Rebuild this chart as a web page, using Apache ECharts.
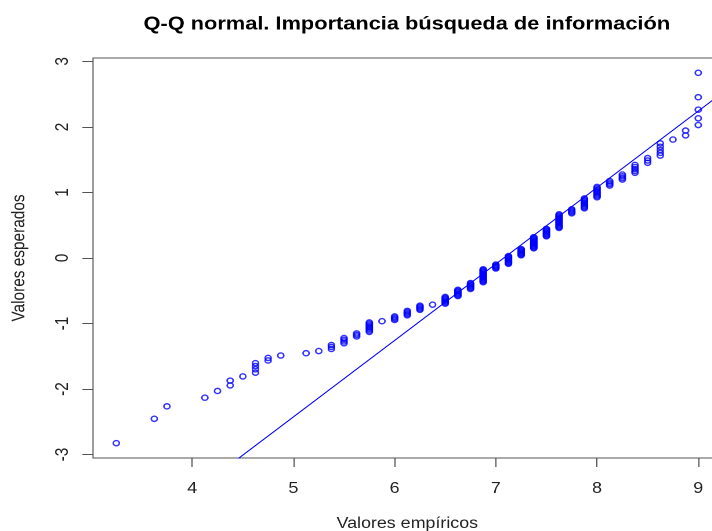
<!DOCTYPE html>
<html>
<head>
<meta charset="utf-8">
<script src="https://cdn.jsdelivr.net/npm/echarts@6/dist/echarts.min.js"></script>
<style>
html,body{margin:0;padding:0;background:#fff;overflow:hidden;width:712px;height:531px;}
#main{width:622px;height:531px;transform:scaleX(1.16);transform-origin:0 0;}
</style>
</head>
<body>
<div id="main"></div>
<script>
// Distinct empirical values (x) and how many observations sit at each one
const empiricalValues = [3.25, 3.625, 3.75, 4.125, 4.25, 4.375, 4.5, 4.625, 4.75, 4.875,
  5.125, 5.25, 5.375, 5.5, 5.625, 5.75, 5.875, 6.0, 6.125, 6.25, 6.375, 6.5, 6.625, 6.75,
  6.875, 7.0, 7.125, 7.25, 7.375, 7.5, 7.625, 7.75, 7.875, 8.0, 8.125, 8.25, 8.375, 8.5,
  8.625, 8.75, 8.875, 9.0];
const valueCounts = [1, 1, 1, 1, 1, 2, 1, 4, 2, 1,
  1, 1, 3, 4, 3, 8, 1, 4, 5, 5, 1, 8, 8, 8,
  17, 6, 11, 9, 15, 10, 16, 5, 10, 9, 4, 4, 5, 3,
  5, 1, 2, 5];
const xTicks = [4, 5, 6, 7, 8, 9];
const yTicks = [-3, -2, -1, 0, 1, 2, 3];
const titleText = 'Q-Q normal. Importancia búsqueda de información';
const xName = 'Valores empíricos';
const yName = 'Valores esperados';

// Standard normal quantile (Acklam)
function qnorm(p) {
  const a = [-3.969683028665376e+01, 2.209460984245205e+02, -2.759285104469687e+02, 1.383577518672690e+02, -3.066479806614716e+01, 2.506628277459239e+00];
  const b = [-5.447609879822406e+01, 1.615858368580409e+02, -1.556989798598866e+02, 6.680131188771972e+01, -1.328068155288572e+01];
  const c = [-7.784894002430293e-03, -3.223964580411365e-01, -2.400758277161838e+00, -2.549732539343734e+00, 4.374664141464968e+00, 2.938163982698783e+00];
  const d = [7.784695709041462e-03, 3.224671290700398e-01, 2.445134137142996e+00, 3.754408661907416e+00];
  const plow = 0.02425, phigh = 1 - plow;
  let q, r;
  if (p < plow) {
    q = Math.sqrt(-2 * Math.log(p));
    return (((((c[0]*q+c[1])*q+c[2])*q+c[3])*q+c[4])*q+c[5]) / ((((d[0]*q+d[1])*q+d[2])*q+d[3])*q+1);
  } else if (p <= phigh) {
    q = p - 0.5; r = q*q;
    return (((((a[0]*r+a[1])*r+a[2])*r+a[3])*r+a[4])*r+a[5])*q / (((((b[0]*r+b[1])*r+b[2])*r+b[3])*r+b[4])*r+1);
  } else {
    q = Math.sqrt(-2 * Math.log(1 - p));
    return -(((((c[0]*q+c[1])*q+c[2])*q+c[3])*q+c[4])*q+c[5]) / ((((d[0]*q+d[1])*q+d[2])*q+d[3])*q+1);
  }
}
function quantile7(sorted, p) {
  const h = (sorted.length - 1) * p;
  const lo = Math.floor(h);
  const hi = Math.min(lo + 1, sorted.length - 1);
  return sorted[lo] + (h - lo) * (sorted[hi] - sorted[lo]);
}

// Build the sorted sample and its normal scores (as qqnorm does)
const sample = [];
empiricalValues.forEach((v, i) => { for (let k = 0; k < valueCounts[i]; k++) sample.push(v); });
const n = sample.length;
const qqPoints = sample.map((v, i) => [v, qnorm((i + 0.5) / n)]);

// Axis limits as R sets them (range +/- 4%)
const xMin = 3.02, xMax = 9.23;
const yMin = -3.052, yMax = 3.052;

// qqline through the quartiles
const q1 = quantile7(sample, 0.25), q3 = quantile7(sample, 0.75);
const z1 = qnorm(0.25), z3 = qnorm(0.75);
const slope = (z3 - z1) / (q3 - q1);
const intercept = z1 - slope * q1;
const qqLine = [[xMin, intercept + slope * xMin], [xMax, intercept + slope * xMax]];

const font = 'Liberation Sans, Arial, Helvetica, sans-serif';
const axisColor = '#555';
const textColor = '#222';

const chart = echarts.init(document.getElementById('main'), null, {renderer: 'canvas', devicePixelRatio: 2});
chart.setOption({
  animation: false,
  backgroundColor: '#fff',
  title: {
    text: titleText,
    left: 345.7,
    textAlign: 'center',
    top: 10,
    textStyle: {fontFamily: font, fontSize: 18.8, fontWeight: 'bold', color: '#000'}
  },
  grid: {
    left: 80.2, top: 58, right: 0, height: 400,
    outerBoundsMode: 'none',
    containLabel: false,
    show: true, borderColor: axisColor, borderWidth: 1, backgroundColor: 'transparent'
  },
  xAxis: {
    type: 'value', min: xMin, max: xMax,
    axisLine: {show: false, onZero: false},
    splitLine: {show: false},
    axisTick: {show: true, length: 9, lineStyle: {color: axisColor, width: 1}, customValues: xTicks},
    axisLabel: {customValues: xTicks, margin: 23, fontSize: 15.4, fontFamily: font, color: textColor},
    name: xName, nameLocation: 'middle', nameGap: 58,
    nameTextStyle: {fontSize: 15.4, fontFamily: font, color: textColor}
  },
  yAxis: {
    type: 'value', min: yMin, max: yMax,
    axisLine: {show: false, onZero: false},
    splitLine: {show: false},
    axisTick: {show: true, length: 9.2, lineStyle: {color: axisColor, width: 1}, customValues: yTicks},
    axisLabel: {customValues: yTicks, rotate: 90, margin: 18.6, fontSize: 15.4, fontFamily: font, color: textColor},
    name: yName, nameLocation: 'middle', nameGap: 56,
    nameTextStyle: {fontSize: 15.4, fontFamily: font, color: textColor}
  },
  series: [
    {
      type: 'scatter',
      data: qqPoints,
      symbol: 'circle',
      symbolSize: 5.2,
      itemStyle: {color: 'rgba(0,0,0,0)', borderColor: '#0000ff', borderWidth: 1.4},
      silent: true
    },
    {
      type: 'line',
      data: qqLine,
      showSymbol: false,
      clip: true,
      lineStyle: {color: '#0000ff', width: 1},
      silent: true
    }
  ]
});
</script>
</body>
</html>
